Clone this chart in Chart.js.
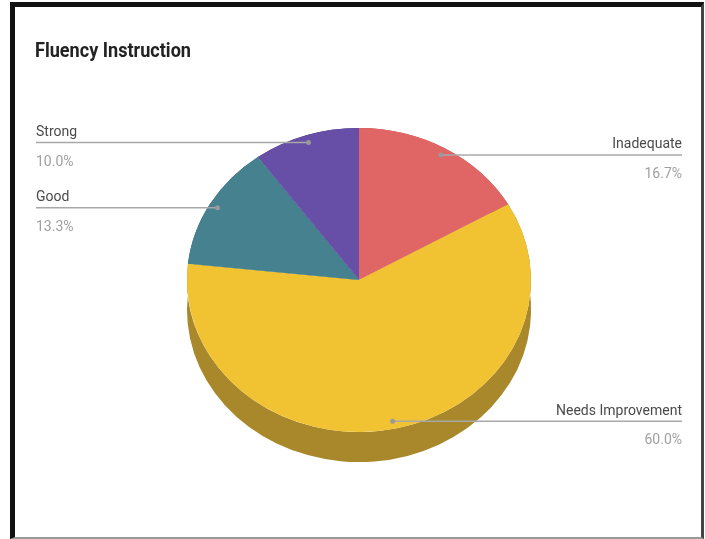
<!DOCTYPE html>
<html lang="en">
<head>
    <meta charset="UTF-8">
    <title>Fluency Instruction</title>
    <style>
        body { margin: 0; background: #fff; }
        #wrap { position: relative; width: 705px; height: 539px; }
        #frame {
            position: absolute; left: 10px; top: 2px; width: 694px; height: 537px;
            box-sizing: border-box; pointer-events: none;
            border-left: 5px solid #111; border-top: 5px solid #111;
            border-right: 3px solid #444; border-bottom: 2px solid #9a9a9a;
        }
    </style>
</head>
<body>

<div id="wrap">
    <canvas id="fluency-chart" width="705" height="539"></canvas>
    <div id="frame"></div>
</div>

<script src="https://cdn.jsdelivr.net/npm/chart.js@4.4.1/dist/chart.umd.min.js"></script>
<script>

    const categories = ['Inadequate', 'Needs Improvement', 'Good', 'Strong'];
    const shares = [16.7, 60.0, 13.3, 10.0];
    const sliceColors = ['#e06666', '#f1c232', '#45818e', '#674ea7'];
    const sideColors = ['#a34a4a', '#a8882a', '#305b64', '#483675'];
    const chartTitle = 'Fluency Instruction';

    const TILT = 0.884;   // vertical squash of the pie
    const DEPTH = 30;     // thickness of the pie edge
    const DOT = 0.95;     // where the leader dot sits along the radius

    // puts the pie on its side and draws the darker rim underneath
    const pie3d = {
        id: 'pie3d',
        beforeDatasetsDraw(chart) {
            const ctx = chart.ctx;
            const arcs = chart.getDatasetMeta(0).data;
            const cx = arcs[0].x, cy = arcs[0].y;
            ctx.save();
            arcs.forEach(function (arc, i) {
                const r = arc.outerRadius;
                ctx.beginPath();
                ctx.moveTo(cx, cy);
                ctx.ellipse(cx, cy, r, r * TILT, 0, arc.startAngle, arc.endAngle);
                ctx.ellipse(cx, cy + DEPTH, r, r * TILT, 0, arc.endAngle, arc.startAngle, true);
                ctx.closePath();
                ctx.fillStyle = sideColors[i];
                ctx.fill();
            });
            ctx.translate(cx, cy);
            ctx.scale(1, TILT);
            ctx.translate(-cx, -cy);
        },
        afterDatasetsDraw(chart) {
            chart.ctx.restore();
        }
    };

    // title plus leader lines with name / percentage on each side
    const sideLabels = {
        id: 'sideLabels',
        afterDraw(chart) {
            const ctx = chart.ctx;
            const arcs = chart.getDatasetMeta(0).data;
            ctx.save();

            ctx.fillStyle = '#222';
            ctx.font = 'bold 21px Roboto';
            ctx.textAlign = 'left';
            ctx.textBaseline = 'alphabetic';
            ctx.fillText(chartTitle, 35, 57, 156);

            arcs.forEach(function (arc, i) {
                const mid = (arc.startAngle + arc.endAngle) / 2;
                const px = arc.x + Math.cos(mid) * arc.outerRadius * DOT;
                const py = arc.y + Math.sin(mid) * arc.outerRadius * DOT * TILT;
                const left = px < arc.x;
                const x0 = left ? 36 : px;
                const x1 = left ? px : 682;

                ctx.strokeStyle = '#a8a8a8';
                ctx.lineWidth = 1.5;
                ctx.beginPath();
                ctx.moveTo(x0, py);
                ctx.lineTo(x1, py);
                ctx.stroke();

                ctx.fillStyle = '#999';
                ctx.beginPath();
                ctx.arc(px, py, 2.5, 0, Math.PI * 2);
                ctx.fill();

                const tx = left ? 36 : 682;
                ctx.textAlign = left ? 'left' : 'right';
                ctx.font = '14px Roboto';
                ctx.fillStyle = '#4a4a4a';
                ctx.fillText(categories[i], tx, py - 6.5);
                ctx.fillStyle = '#a0a0a0';
                ctx.fillText(shares[i].toFixed(1) + '%', tx, py + 23);
            });
            ctx.restore();
        }
    };

    const ctx = document.getElementById('fluency-chart').getContext('2d');
    const fluencyChart = new Chart(ctx, {
        type: 'pie',
        data: {
            labels: categories,
            datasets: [{
                data: shares,
                backgroundColor: sliceColors,
                borderWidth: 0
            }]
        },
        options: {
            responsive: false,
            devicePixelRatio: 1,
            animation: false,
            layout: {
                padding: { left: 187, right: 174, top: 108, bottom: 87 }
            },
            plugins: {
                legend: { display: false },
                tooltip: { enabled: false }
            }
        },
        plugins: [pie3d, sideLabels]
    });
</script>
</body>
</html>
